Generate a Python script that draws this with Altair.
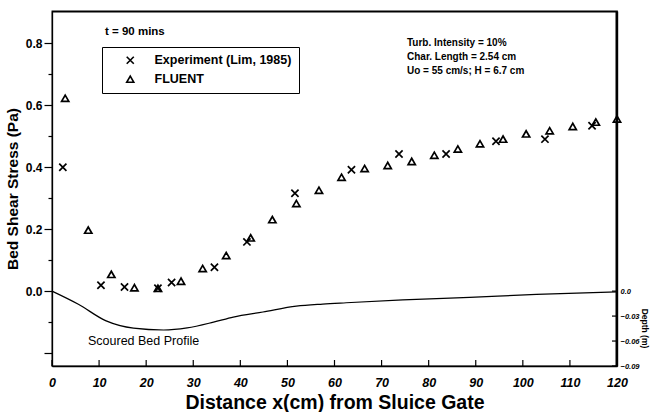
import altair as alt
import pandas as pd

# ---- data ----
exp_label = "Experiment (Lim, 1985)"
flu_label = "FLUENT"

exp_x = [2.3, 10.4, 15.4, 22.5, 25.4, 34.5, 41.4, 51.6, 63.6, 73.7, 83.7, 94.3, 104.7, 114.7]
exp_y = [0.400, 0.019, 0.013, 0.009, 0.028, 0.077, 0.159, 0.316, 0.392, 0.443, 0.443, 0.484, 0.491, 0.534]

flu_x = [2.8, 7.7, 12.6, 17.5, 22.5, 27.4, 32.0, 37.0, 42.2, 46.8, 51.9, 56.7, 61.5, 66.4,
         71.3, 76.4, 81.2, 86.2, 90.9, 95.8, 100.7, 105.7, 110.6, 115.5, 120.0]
flu_y = [0.623, 0.197, 0.054, 0.011, 0.009, 0.032, 0.073, 0.115, 0.172, 0.231, 0.283, 0.326, 0.368, 0.396,
         0.406, 0.419, 0.439, 0.459, 0.476, 0.491, 0.508, 0.518, 0.532, 0.546, 0.556]

profile_x = [0, 5.6, 11.5, 17.3, 23.7, 28.7, 34.3, 38.5, 44.8, 51.9, 57.5, 62.5, 74.5, 88.7, 102.9, 120]
profile_depth = [0, -0.0158, -0.0358, -0.0445, -0.0467, -0.0442, -0.0373, -0.0312, -0.0251,
                 -0.0181, -0.0156, -0.0140, -0.0106, -0.0074, -0.0040, -0.0010]

x_ticks = [0, 10, 20, 30, 40, 50, 60, 70, 80, 90, 100, 110, 120]
stress_ticks = [-0.2, -0.1, 0.0, 0.1, 0.2, 0.3, 0.4, 0.5, 0.6, 0.7, 0.8]
depth_ticks = [0.0, -0.03, -0.06, -0.09]

x_range = [0, 120]
s_range = [-0.242, 0.905]
d_range = [-0.09, 0.3367]

note_time = "t = 90 mins"
note_params = ["Turb. Intensity = 10%", "Char. Length = 2.54 cm", "Uo = 55 cm/s; H = 6.7 cm"]
note_profile = "Scoured Bed Profile"

FONT = "Liberation Sans"
W, H = 565, 355

x_scale = alt.Scale(domain=x_range, nice=False, zero=False)
s_scale = alt.Scale(domain=s_range, nice=False, zero=False)
d_scale = alt.Scale(domain=d_range, nice=False, zero=False)

x_axis = alt.Axis(values=x_ticks, ticks=False, labelFontWeight="bold",
                  labelFontStyle="italic", labelFontSize=12.5, labelPadding=10,
                  labelFlush=False, labelOverlap=False, zindex=1,
                  titleFontSize=19.5, titleFontWeight="bold", titlePadding=5)
x_title = "Distance x(cm) from Sluice Gate"

s_axis = alt.Axis(values=stress_ticks,
                  labelExpr="(round(datum.value*10) % 2 == 0 && datum.value > -0.05) ? format(datum.value, '.1f') : ''",
                  tickSize={"condition": {"test": "round(datum.value*10) % 2 != 0", "value": 4}, "value": 8},
                  labelFontWeight="bold", labelFontSize=12, labelPadding=2,
                  labelFlush=False, labelOverlap=False, zindex=1,
                  titleFontSize=15.5, titleFontWeight="bold", titlePadding=5)
s_title = "Bed Shear Stress (Pa)"

d_axis = alt.Axis(orient="right", values=depth_ticks, domain=True, domainColor="black", domainWidth=1.4,
                  labelExpr="datum.value == 0 ? '0.0' : format(datum.value, '.2f')",
                  ticks=False, labelFontSize=7.5, labelFontWeight="bold", labelFontStyle="italic",
                  labelPadding=3, labelFlush=False, labelOverlap=False, zindex=1,
                  titleAngle=90, titleFontSize=8.5, titleFontWeight="bold",
                  titleX=27, titleY=317, titleAlign="center", titleBaseline="middle")
d_title = "Depth (m)"

def X():
    return alt.X("x:Q", scale=x_scale, axis=x_axis, title=x_title)

def D():
    return alt.Y("d:Q", scale=d_scale, axis=d_axis, title=d_title)

df_pts = pd.DataFrame({
    "x": exp_x + flu_x,
    "s": exp_y + flu_y,
    "series": [exp_label] * len(exp_x) + [flu_label] * len(flu_x),
})

cross_path = "M-1,-1L1,1M-1,1L1,-1"

points = alt.Chart(df_pts).mark_point(
    filled=False, color="black", strokeWidth=1.7, size=52, opacity=1
).encode(
    x=X(),
    y=alt.Y("s:Q", scale=s_scale, axis=s_axis, title=s_title),
    shape=alt.Shape("series:N",
                    scale=alt.Scale(domain=[exp_label, flu_label], range=[cross_path, "triangle-up"]),
                    legend=alt.Legend(title=None, orient="none", legendX=50, legendY=36,
                                      strokeColor="black", padding=7,
                                      symbolOffset=15, labelOffset=18, rowPadding=5,
                                      labelFontSize=12.5, labelFontWeight="bold", labelFont=FONT,
                                      labelColor="black", symbolStrokeColor="black",
                                      symbolStrokeWidth=1.6, symbolSize=50)),
)

xtick_rules = alt.Chart(pd.DataFrame({"x": x_ticks})).mark_rule(color="black", strokeWidth=1.2).encode(
    x=X(),
    y=alt.value(H), y2=alt.value(H - 6),
)

# frame edges (top and right), drawn just inside the plot area
frame_top = alt.Chart(pd.DataFrame({"f": ["top"]})).mark_rule(color="black", strokeWidth=1.5).encode(
    x=alt.value(0), x2=alt.value(W), y=alt.value(0.75)
)
frame_right = alt.Chart(pd.DataFrame({"f": ["right"]})).mark_rule(color="black", strokeWidth=1.5).encode(
    x=alt.value(W - 0.75), y=alt.value(0), y2=alt.value(H)
)

def text_layer(txt, x, y, size, weight="bold"):
    return alt.Chart(pd.DataFrame({"t": [txt]})).mark_text(
        align="left", baseline="middle", font=FONT, fontSize=size, fontWeight=weight, color="black"
    ).encode(x=alt.value(x), y=alt.value(y), text="t:N")

texts = [text_layer(note_time, 53, 21, 11.5)]
for i, t in enumerate(note_params):
    texts.append(text_layer(t, 355, 32 + 14 * i, 10))
texts.append(text_layer(note_profile, 36, 330, 12.5, "normal"))

stress_layer = alt.layer(points, xtick_rules, frame_top, frame_right, *texts)

profile = alt.Chart(pd.DataFrame({"x": profile_x, "d": profile_depth})).mark_line(
    color="black", strokeWidth=1.2, interpolate="monotone"
).encode(x=X(), y=D())

dtick_rules = alt.Chart(pd.DataFrame({"d": depth_ticks})).mark_rule(color="black", strokeWidth=1.2).encode(
    y=D(), x=alt.value(W), x2=alt.value(W - 5),
)

depth_layer = alt.layer(profile, dtick_rules)

chart = alt.layer(stress_layer, depth_layer).resolve_scale(y="independent").properties(
    width=W, height=H,
    padding={"left": 52, "top": 11, "right": 41, "bottom": 46},
    autosize=alt.AutoSizeParams(type="none"),
).configure_view(
    stroke="black", strokeWidth=1.3
).configure_axis(
    grid=False, domainColor="black", domainWidth=1.3, labelColor="black", titleColor="black",
    tickColor="black", tickWidth=1.2, labelFont=FONT, titleFont=FONT
)

chart.save("out.html", embed_options={"renderer": "svg", "actions": False})
